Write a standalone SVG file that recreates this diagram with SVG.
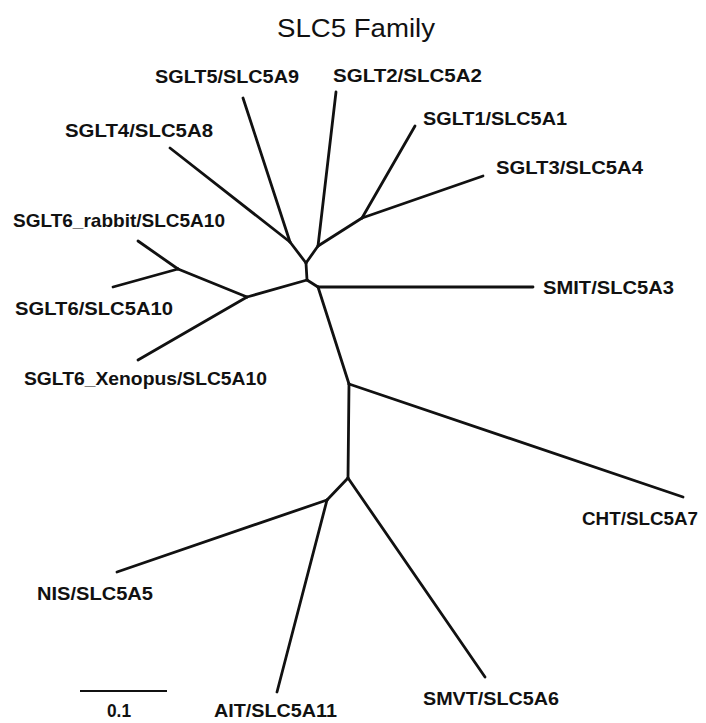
<svg xmlns="http://www.w3.org/2000/svg" width="706" height="723" viewBox="0 0 706 723">
<style>
  .bg { fill: #ffffff; }
  .br { stroke: #111111; stroke-width: 2.8; fill: none; stroke-linecap: round; stroke-linejoin: round; }
  .scale { stroke: #111111; stroke-width: 2.2; fill: none; }
  .lbl { font-family: "Liberation Sans", Arial, sans-serif; font-weight: bold; font-size: 18.5px; fill: #111111; }
  .title { font-family: "Liberation Sans", Arial, sans-serif; font-weight: normal; font-size: 26px; fill: #111111; }
</style>
<rect class="bg" x="0" y="0" width="706" height="723"/>
<text id="title" class="title" x="277" y="37" textLength="158" lengthAdjust="spacingAndGlyphs">SLC5 Family</text>
<g id="connectors">
  <line class="br" x1="243" y1="98" x2="290" y2="242"/>
  <line class="br" x1="170" y1="148" x2="290" y2="242"/>
  <line class="br" x1="290" y1="242" x2="306" y2="263"/>
  <line class="br" x1="336" y1="92" x2="318" y2="246"/>
  <line class="br" x1="362" y1="218" x2="318" y2="246"/>
  <line class="br" x1="415" y1="126" x2="362" y2="218"/>
  <line class="br" x1="483" y1="176" x2="362" y2="218"/>
  <line class="br" x1="318" y1="246" x2="306" y2="263"/>
  <line class="br" x1="306" y1="263" x2="307" y2="280"/>
  <line class="br" x1="307" y1="280" x2="247" y2="297"/>
  <line class="br" x1="247" y1="297" x2="178" y2="269"/>
  <line class="br" x1="178" y1="269" x2="138" y2="241"/>
  <line class="br" x1="178" y1="269" x2="113" y2="287"/>
  <line class="br" x1="247" y1="297" x2="138" y2="360"/>
  <line class="br" x1="307" y1="280" x2="318" y2="287"/>
  <line class="br" x1="318" y1="287" x2="533" y2="287"/>
  <line class="br" x1="318" y1="287" x2="349" y2="384"/>
  <line class="br" x1="349" y1="384" x2="683" y2="497"/>
  <line class="br" x1="349" y1="384" x2="348" y2="478"/>
  <line class="br" x1="348" y1="478" x2="327" y2="500"/>
  <line class="br" x1="327" y1="500" x2="117" y2="572"/>
  <line class="br" x1="327" y1="500" x2="277" y2="692"/>
  <line class="br" x1="348" y1="478" x2="485" y2="677"/>
</g>
<g id="node-sglt5"><text class="lbl" x="155" y="83" textLength="144" lengthAdjust="spacingAndGlyphs">SGLT5/SLC5A9</text></g>
<g id="node-sglt2"><text class="lbl" x="333" y="82" textLength="149" lengthAdjust="spacingAndGlyphs">SGLT2/SLC5A2</text></g>
<g id="node-sglt4"><text class="lbl" x="65" y="137" textLength="148" lengthAdjust="spacingAndGlyphs">SGLT4/SLC5A8</text></g>
<g id="node-sglt1"><text class="lbl" x="423" y="125" textLength="144" lengthAdjust="spacingAndGlyphs">SGLT1/SLC5A1</text></g>
<g id="node-sglt3"><text class="lbl" x="496" y="174" textLength="147" lengthAdjust="spacingAndGlyphs">SGLT3/SLC5A4</text></g>
<g id="node-sglt6-rabbit"><text class="lbl" x="13" y="227" textLength="212" lengthAdjust="spacingAndGlyphs">SGLT6_rabbit/SLC5A10</text></g>
<g id="node-sglt6"><text class="lbl" x="15" y="315" textLength="158" lengthAdjust="spacingAndGlyphs">SGLT6/SLC5A10</text></g>
<g id="node-sglt6-xenopus"><text class="lbl" x="24" y="385" textLength="243" lengthAdjust="spacingAndGlyphs">SGLT6_Xenopus/SLC5A10</text></g>
<g id="node-smit"><text class="lbl" x="543" y="294" textLength="131" lengthAdjust="spacingAndGlyphs">SMIT/SLC5A3</text></g>
<g id="node-cht"><text class="lbl" x="582" y="525" textLength="116" lengthAdjust="spacingAndGlyphs">CHT/SLC5A7</text></g>
<g id="node-nis"><text class="lbl" x="37" y="600" textLength="116" lengthAdjust="spacingAndGlyphs">NIS/SLC5A5</text></g>
<g id="node-smvt"><text class="lbl" x="423" y="705" textLength="136" lengthAdjust="spacingAndGlyphs">SMVT/SLC5A6</text></g>
<g id="node-ait"><text class="lbl" x="214" y="717" textLength="123" lengthAdjust="spacingAndGlyphs">AIT/SLC5A11</text></g>
<g id="scale-bar">
  <line class="scale" x1="80" y1="691" x2="167" y2="691"/>
  <text class="lbl" x="107" y="717" textLength="24" lengthAdjust="spacingAndGlyphs">0.1</text>
</g>
</svg>
